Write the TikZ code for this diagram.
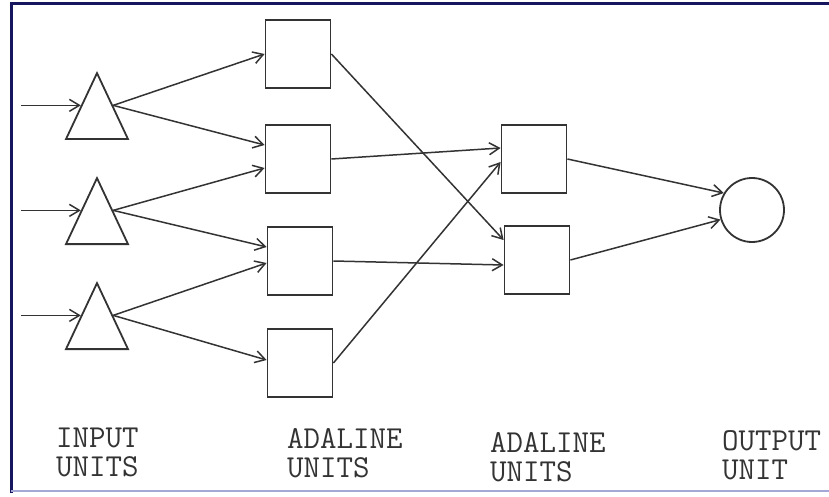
\documentclass[tikz,border=0pt]{standalone}
\usepackage{fontspec}
\usepackage{xcolor}
\usepackage{tikz}
\usetikzlibrary{shapes.geometric}
\usetikzlibrary{arrows.meta}
\definecolor{framenavy}{HTML}{16165E}
\definecolor{framelav}{HTML}{A4A8D6}
\definecolor{ink}{HTML}{333333}
\tikzstyle{tri}=[isosceles triangle,shape border rotate=90,isosceles triangle stretches,draw=ink,line width=1.8pt,minimum width=62pt,minimum height=66pt,inner sep=0pt,anchor=lower side]
\tikzstyle{unit}=[rectangle,draw=ink,line width=1.8pt,minimum width=65pt,minimum height=68pt,inner sep=0pt]
\tikzstyle{outcircle}=[circle,draw=ink,line width=1.8pt,minimum size=64pt,inner sep=0pt]
\tikzstyle{edge}=[draw=ink,line width=1.5pt,-{Straight Barb[length=10pt,width=12pt]}]
\tikzstyle{caption}=[font=\ttfamily\fontsize{32}{29}\selectfont,text=ink,align=left,anchor=north west,inner sep=0pt]

\begin{document}
\begin{tikzpicture}[x=1pt,y=-1pt]
  \useasboundingbox (0,0) rectangle (829,497);

  % frame
  \draw[framenavy,line width=3pt] (11,493) -- (11,4) -- (829,4);
  \draw[framelav,line width=2.5pt] (11,491) -- (829,491);

  % input units
  \foreach \y/\name in {140/t1, 245/t2, 350/t3}
     \node[tri] (\name) at (97,\y) {};

  % adaline units
  \foreach \x/\y/\name in {298/54/a1, 298/159/a2, 300/261/a3, 300/363/a4, 534/159/b1, 537/260/b2}
     \node[unit] (\name) at (\x,\y) {};

  % output unit
  \node[outcircle] (out) at (752,210) {};

  % inputs
  \foreach \name in {t1,t2,t3}
  {
     \coordinate (in-\name) at ([xshift=-60pt]\name.left side);
     \path[edge] (in-\name) -- (\name.left side);
  }

  \foreach \source/\dest/\off in {t1/a1/0, t1/a2/14, t2/a2/-9, t2/a3/14, t3/a3/-2, t3/a4/3}
     \path[edge] (\source.right side) -- ([yshift=\off pt]\dest.west);

  \foreach \source/\dest/\off in {a1/b2/20, a2/b1/11, a3/b2/-5, a4/b1/-3}
     \path[edge] (\source.east) -- ([yshift=\off pt]\dest.west);

  \foreach \source/\angle in {b1/149, b2/197}
     \path[edge] (\source.east) -- (out.\angle);

  % captions
  \node[caption] (capin) at (56,428) {INPUT\\UNITS};
  \node[caption] (capa) at (287,428) {ADALINE\\UNITS};
  \node[caption] (capb) at (490,432) {ADALINE\\UNITS};
  \node[caption] (capout) at (722,430) {OUTPUT\\UNIT};

\end{tikzpicture}
\end{document}
